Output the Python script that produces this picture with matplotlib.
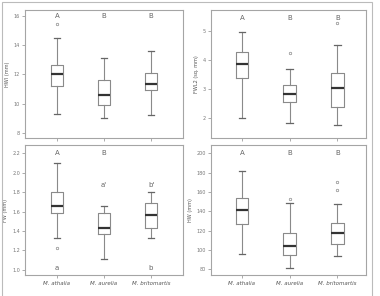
import matplotlib
matplotlib.use("Agg")
import matplotlib.pyplot as plt
from matplotlib.patches import Rectangle

species = ["M. athalia", "M. aurelia", "M. britomartis"]

# panel: top-left
tl_whislo = [9.3, 9.0, 9.2]
tl_q1 = [11.2, 9.9, 10.9]
tl_med = [12.0, 10.55, 11.35]
tl_q3 = [12.65, 11.6, 12.1]
tl_whishi = [14.5, 13.1, 13.6]
tl_fliers = [[15.45], [], []]
tl_letters = ["A", "B", "B"]
tl_ticks = [8, 10, 12, 14, 16]
tl_ylabel = "HWI (mm)"

# panel: top-right
tr_whislo = [2.0, 1.82, 1.75]
tr_q1 = [3.37, 2.54, 2.39]
tr_med = [3.86, 2.82, 3.03]
tr_q3 = [4.25, 3.14, 3.54]
tr_whishi = [4.95, 3.68, 4.5]
tr_fliers = [[], [4.22], [5.25]]
tr_letters = ["A", "B", "B"]
tr_ticks = [2, 3, 4, 5]
tr_ylabel = "FWL2 (sq. mm)"

# panel: bottom-left
bl_whislo = [1.33, 1.11, 1.33]
bl_q1 = [1.58, 1.365, 1.43]
bl_med = [1.655, 1.43, 1.56]
bl_q3 = [1.80, 1.585, 1.69]
bl_whishi = [2.10, 1.66, 1.80]
bl_fliers = [[1.225], [], []]
bl_letters = ["A", "B", ""]
bl_letters2 = ["", "a'", "b'"]
bl_letters3 = ["a", "", "b"]
bl_ticks = [1.0, 1.2, 1.4, 1.6, 1.8, 2.0, 2.2]
bl_ylabel = "FW (mm)"

# panel: bottom-right
br_whislo = [96, 81, 93.6]
br_q1 = [126.3, 95.2, 106]
br_med = [141.5, 103.8, 117]
br_q3 = [154, 117.6, 128]
br_whishi = [182, 149, 147]
br_fliers = [[], [153], [170.2, 161.9]]
br_letters = ["A", "B", "B"]
br_ticks = [80, 100, 120, 140, 160, 180, 200]
br_ylabel = "HW (mm)"

W, H = 380, 296
fig = plt.figure(figsize=(W / 100, H / 100), dpi=100)
fig.patch.set_facecolor("white")

fig.patches.append(Rectangle((2 / W, -0.01), 370 / W, 1 - 2 / H + 0.01,
                             transform=fig.transFigure, fill=False,
                             edgecolor="#bbbbbb", linewidth=0.8))

GRAY = "#8a8a8a"
TXT = "#777777"
LET = "#666666"


def make_ax(x0, x1, y0, y1):
    return fig.add_axes([x0 / W, 1 - y1 / H, (x1 - x0) / W, (y1 - y0) / H])


def draw(ax, whislo, q1, med, q3, whishi, fliers, ticks, ylim, xlim, ylabel, fmt, show_x):
    stats = []
    for i in range(3):
        stats.append(dict(whislo=whislo[i], q1=q1[i], med=med[i], q3=q3[i],
                          whishi=whishi[i], fliers=fliers[i]))
    ax.bxp(stats, positions=[1, 2, 3], widths=0.27, showfliers=True,
           boxprops=dict(color=GRAY, linewidth=0.8),
           whiskerprops=dict(color=GRAY, linewidth=0.8),
           capprops=dict(color="#666666", linewidth=0.9),
           medianprops=dict(color="#333333", linewidth=1.6),
           flierprops=dict(marker="o", markersize=1.8, markerfacecolor="none",
                           markeredgecolor=GRAY, markeredgewidth=0.5))
    ax.set_xlim(*xlim)
    ax.set_ylim(*ylim)
    ax.set_yticks(ticks)
    ax.set_yticklabels([fmt.format(t) for t in ticks])
    ax.set_xticks([1, 2, 3])
    if show_x:
        ax.set_xticklabels(species, fontstyle="italic")
    else:
        ax.set_xticklabels([])
    ax.tick_params(axis="both", length=2, width=0.5, color=GRAY,
                   labelsize=3.5, labelcolor=TXT, pad=1.5)
    ax.tick_params(axis="x", labelsize=4.0, labelcolor="#555555", pad=2)
    for s in ax.spines.values():
        s.set_color("#a5a5a5")
        s.set_linewidth(0.8)
    ax.set_ylabel(ylabel, fontsize=3.6, color="#555555", labelpad=3)


def letters(ax, labels, y):
    for i, t in enumerate(labels):
        if t:
            ax.text(i + 1, y, t, ha="center", va="center", fontsize=5, color=LET)


tl = make_ax(25, 183, 10, 138)
draw(tl, tl_whislo, tl_q1, tl_med, tl_q3, tl_whishi, tl_fliers, tl_ticks,
     (7.64, 16.4), (0.32, 3.68), tl_ylabel, "{:d}", False)
letters(tl, tl_letters, 16.0)

tr = make_ax(211, 366, 10, 138)
draw(tr, tr_whislo, tr_q1, tr_med, tr_q3, tr_whishi, tr_fliers, tr_ticks,
     (1.31, 5.71), (0.35, 3.6), tr_ylabel, "{:d}", False)
letters(tr, tr_letters, 5.45)

bl = make_ax(25, 183, 145, 275)
draw(bl, bl_whislo, bl_q1, bl_med, bl_q3, bl_whishi, bl_fliers, bl_ticks,
     (0.945, 2.286), (0.32, 3.68), bl_ylabel, "{:.1f}", True)
letters(bl, bl_letters, 2.2)
letters(bl, bl_letters2, 1.87)
letters(bl, bl_letters3, 1.02)

br = make_ax(211, 366, 145, 275)
draw(br, br_whislo, br_q1, br_med, br_q3, br_whishi, br_fliers, br_ticks,
     (74, 208.6), (0.35, 3.6), br_ylabel, "{:d}", True)
letters(br, br_letters, 200)

fig.savefig("out.png", dpi=100, facecolor="white")
